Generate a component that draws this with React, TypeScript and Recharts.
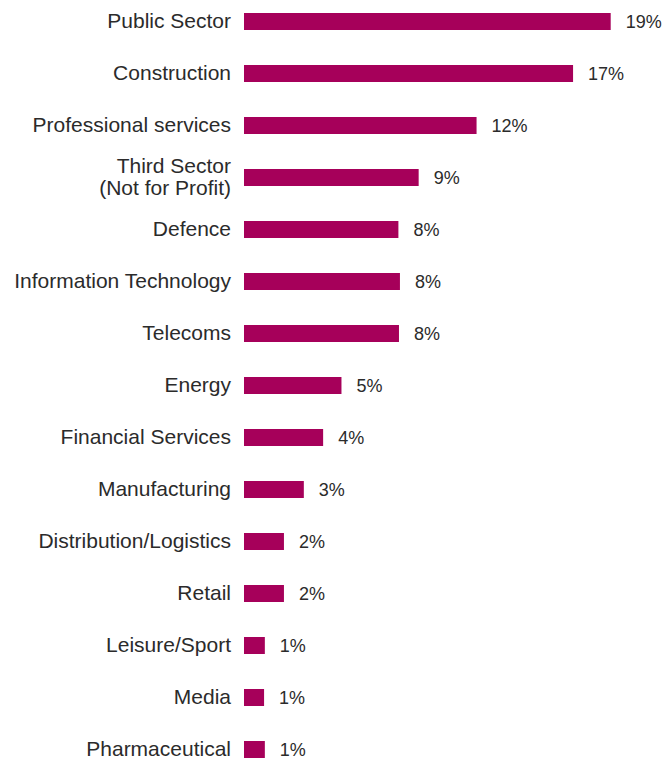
// modules
import { BarChart, Bar, XAxis, YAxis, LabelList } from "recharts";


// chart data
const sectors: string[] = [
  "Public Sector",
  "Construction",
  "Professional services",
  "Third Sector\n(Not for Profit)",
  "Defence",
  "Information Technology",
  "Telecoms",
  "Energy",
  "Financial Services",
  "Manufacturing",
  "Distribution/Logistics",
  "Retail",
  "Leisure/Sport",
  "Media",
  "Pharmaceutical",
];

const shares: number[] = [19, 17.05, 12.05, 9.05, 8.0, 8.08, 8.03, 5.05, 4.1, 3.1, 2.07, 2.07, 1.08, 1.04, 1.08];

const shareLabels: string[] = ["19%", "17%", "12%", "9%", "8%", "8%", "8%", "5%", "4%", "3%", "2%", "2%", "1%", "1%", "1%"];

const data = sectors.map((sector, i) => ({ sector, share: shares[i], label: shareLabels[i] }));


const BAR_COLOR = "#a6005a";
const TEXT_COLOR = "#2b2b2b";
const FONT = "'Liberation Sans', Arial, Helvetica, sans-serif";


function SectorTick({ x, y, payload }: any) {
  const lines: string[] = String(payload.value).split("\n");
  const lineHeight = 22;
  const firstOffset = -((lines.length - 1) * lineHeight) / 2;
  return (
    <text x={x} y={y} textAnchor="end" fill={TEXT_COLOR} fontSize={21} fontFamily={FONT}>
      {lines.map((line, i) => (
        <tspan key={i} x={x} dy={i === 0 ? firstOffset + 6.5 : lineHeight}>
          {line}
        </tspan>
      ))}
    </text>
  );
}


export default function App() {
  return (
    <div style={{ position: "fixed", top: 0, left: 0, width: 663, height: 758, overflow: "hidden", background: "#fff" }}>
      <div style={{ position: "absolute", top: -5, left: 0 }}>
        <BarChart
          width={663}
          height={780}
          data={data}
          layout="vertical"
          margin={{ top: 0, right: 33, bottom: 0, left: 0 }}
          barCategoryGap={0}
        >
          <XAxis type="number" domain={[0, 20]} hide />
          <YAxis
            dataKey="sector"
            type="category"
            width={244}
            axisLine={false}
            tickLine={false}
            tickSize={0}
            tickMargin={13}
            interval={0}
            tick={<SectorTick />}
          />
          <Bar dataKey="share" fill={BAR_COLOR} barSize={17} isAnimationActive={false}>
            <LabelList
              dataKey="label"
              position="right"
              offset={15}
              fill={TEXT_COLOR}
              fontSize={18}
              fontFamily={FONT}
            />
          </Bar>
        </BarChart>
      </div>
    </div>
  );
}
